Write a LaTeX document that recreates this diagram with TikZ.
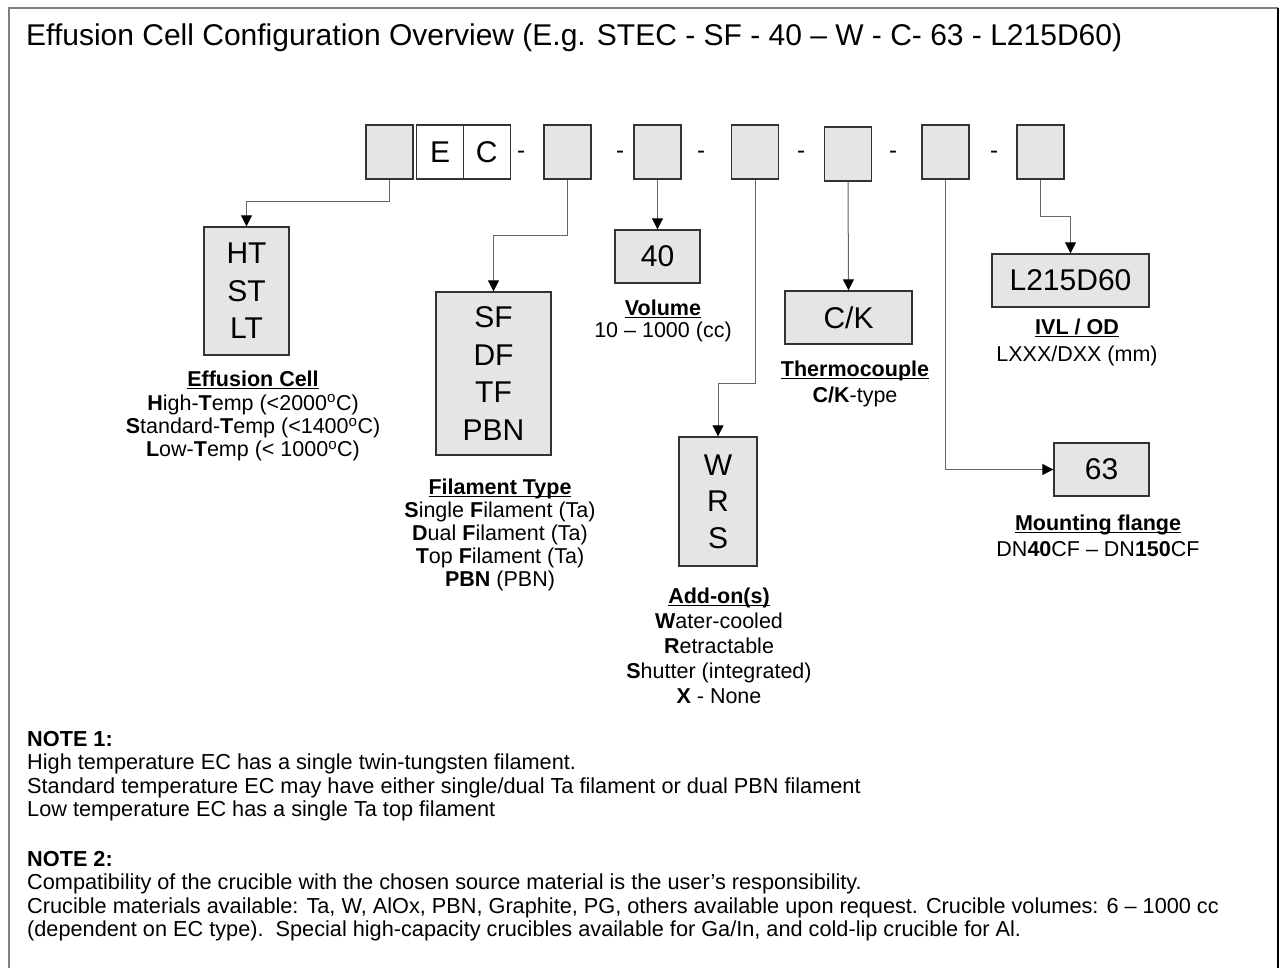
\documentclass[tikz,border=0pt]{standalone}
\usepackage{fontspec}
\setmainfont{Liberation Sans}
\usetikzlibrary{positioning,arrows.meta}

\newcommand{\ocel}{\textsuperscript{o}C}
\newcommand{\hdg}[1]{\underline{\textbf{\vphantom{A}\smash{#1}}}}

\tikzset{
  slot/.style={draw=black!80, fill=black!10, line width=1.4pt, minimum width=47pt, minimum height=54pt, inner sep=0pt},
  letter/.style={slot, fill=white, font=\fontsize{30}{30}\selectfont},
  sep/.style={font=\fontsize{24}{24}\selectfont, inner sep=0pt},
  choice/.style={draw=black!80, fill=black!10, line width=1.4pt, inner sep=0pt, align=center, font=\fontsize{30}{37.5}\selectfont},
  conn/.style={draw=black!60, line width=1pt, -{Triangle[length=11pt, width=11pt, black]}},
  legend/.style={align=center, anchor=north, inner sep=0pt, font=\fontsize{21.5}{#1}\selectfont},
  legend/.default=23.5,
  note/.style={align=left, anchor=north west, inner sep=0pt, font=\fontsize{21.7}{23.5}\selectfont}
}

\begin{document}
\begin{tikzpicture}[x=1pt, y=-1pt]
\useasboundingbox (0,0) rectangle (1284,968);

% Frame
\draw[black!50, line width=2pt] (9,975) -- (9,8) -- (1278,8);
\draw[black, line width=1.5pt] (1278,8) -- (1278,975);

% Title
\node[anchor=base west, inner sep=0pt, font=\fontsize{30}{30}\selectfont] (title) at (26,46)
  {Effusion Cell Configuration Overview (E.g. STEC - SF - 40 -- W - C- 63 - L215D60)};

% Code slots
\node[slot] (sEC) at (389.5,152) {};
\node[letter] (sE) at (440,152) {E};
\node[letter] (sC) at (486.75,152) {C};
\node[sep] (d1) at (521,155) {-};
\node[slot] (sFil) at (567.5,152) {};
\node[sep] (d2) at (620,155) {-};
\node[slot] (sVol) at (657.5,152) {};
\node[sep] (d3) at (701,155) {-};
\node[slot] (sAdd) at (755,152) {};
\node[sep] (d4) at (801,155) {-};
\node[slot] (sTC) at (848,154) {};
\node[sep] (d5) at (893,155) {-};
\node[slot] (sFl) at (945.5,152) {};
\node[sep] (d6) at (994,155) {-};
\node[slot] (sIVL) at (1040.5,152) {};

% Option boxes
\node[choice, minimum width=85pt, minimum height=128pt] (bEC) at (246.5,291) {HT\\ST\\LT};
\node[choice, minimum width=115pt, minimum height=163pt] (bFil) at (493.5,373.5) {SF\\DF\\TF\\PBN};
\node[choice, minimum width=85pt, minimum height=53pt] (bVol) at (657.5,256.5) {40};
\node[choice, minimum width=78pt, minimum height=129pt, font=\fontsize{30}{36.5}\selectfont] (bAdd) at (718,501.5) {W\\R\\S};
\node[choice, minimum width=127pt, minimum height=53pt] (bTC) at (848.5,317.5) {C/K};
\node[choice, minimum width=95pt, minimum height=53pt] (bFl) at (1101.5,469.5) {63};
\node[choice, minimum width=157pt, minimum height=53pt] (bIVL) at (1070.5,280.5) {L215D60};

% Connectors
\draw[conn] (sEC.south) -- ++(0,22) -| (bEC.north);
\draw[conn] (sFil.south) -- ++(0,56) -| (bFil.north);
\draw[conn] (sVol.south) -- (bVol.north);
\draw[conn] (sAdd.south) -- ++(0,204) -| (bAdd.north);
\draw[conn] (sTC.south) -- (bTC.north);
\draw[conn] (sFl.south) |- (bFl.west);
\draw[conn] (sIVL.south) -- ++(0,37) -| (bIVL.north);

% Legends
\node[legend=23.3] (tEC) at (253,372) {\hdg{Effusion Cell}\\
  \textbf{H}igh-\textbf{T}emp (<2000\ocel)\\
  \textbf{S}tandard-\textbf{T}emp (<1400\ocel)\\
  \textbf{L}ow-\textbf{T}emp (< 1000\ocel)};
\node[legend=23] (tFil) at (500,480) {\hdg{Filament Type}\\
  \textbf{S}ingle \textbf{F}ilament (Ta)\\
  \textbf{D}ual \textbf{F}ilament (Ta)\\
  \textbf{T}op \textbf{F}ilament (Ta)\\
  \textbf{PBN} (PBN)};
\node[legend=21.5] (tVol) at (663,301) {\hdg{Volume}\\10 -- 1000 (cc)};
\node[legend=25] (tAdd) at (719,589) {\hdg{Add-on(s)}\\
  \textbf{W}ater-cooled\\
  \textbf{R}etractable\\
  \textbf{S}hutter (integrated)\\
  \textbf{X} - None};
\node[legend=26] (tTC) at (855,362) {\hdg{Thermocouple}\\\textbf{C/K}-type};
\node[legend=27] (tIVL) at (1077,320) {\hdg{IVL / OD}\\LXXX/DXX (mm)};
\node[legend=26] (tFl) at (1098,516) {\hdg{Mounting flange}\\DN\textbf{40}CF -- DN\textbf{150}CF};

% Notes
\node[note] (n1) at (27,731) {\textbf{NOTE 1:}\\
  High temperature EC has a single twin-tungsten filament.\\
  Standard temperature EC may have either single/dual Ta filament or dual PBN filament\\
  Low temperature EC has a single Ta top filament};
\node[note] (n2) at (27,851) {\textbf{NOTE 2:}\\
  Compatibility of the crucible with the chosen source material is the user's responsibility.\\
  Crucible materials available: Ta, W, AlOx, PBN, Graphite, PG, others available upon request. Crucible volumes: 6 -- 1000 cc\\
  (dependent on EC type).\ \ Special high-capacity crucibles available for Ga/In, and cold-lip crucible for Al.};

\end{tikzpicture}
\end{document}
